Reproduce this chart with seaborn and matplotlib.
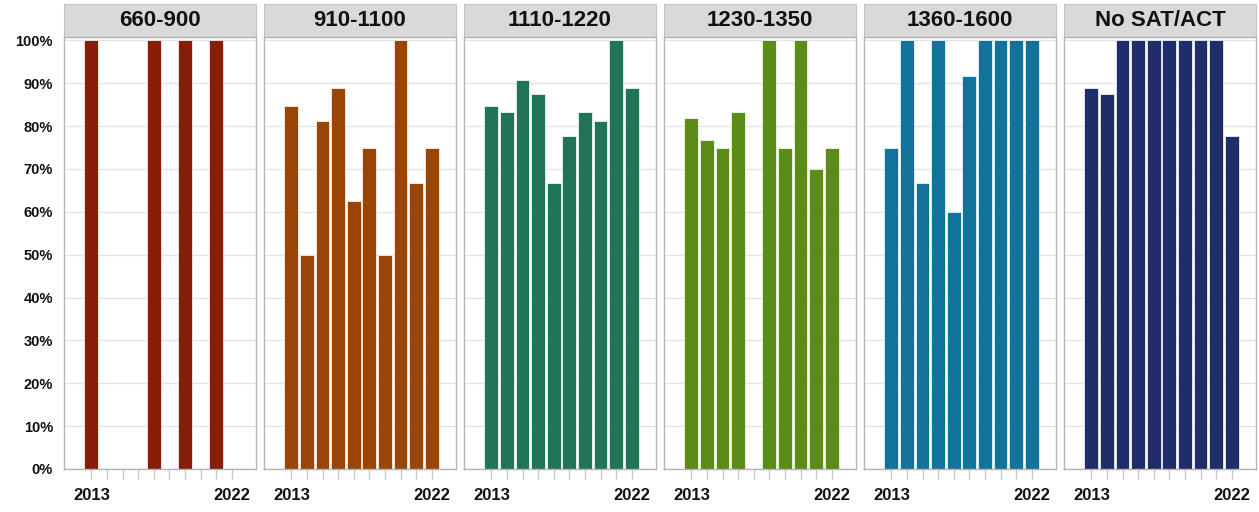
import numpy as np
import pandas as pd
import seaborn as sns
import matplotlib.pyplot as plt
from matplotlib.patches import Rectangle
from matplotlib.ticker import PercentFormatter

years = list(range(2013, 2023))
bands = ["660-900", "910-1100", "1110-1220", "1230-1350", "1360-1600", "No SAT/ACT"]
colors = ["#8a1c0a", "#9a4405", "#21735a", "#5b8c17", "#12739a", "#1f2d6b"]

nan = np.nan
rate_660_900 = [1.0, nan, nan, nan, 1.0, nan, 1.0, nan, 1.0, nan]
rate_910_1100 = [0.846, 0.50, 0.812, 0.889, 0.625, 0.75, 0.50, 1.0, 0.667, 0.75]
rate_1110_1220 = [0.846, 0.832, 0.908, 0.874, 0.667, 0.778, 0.832, 0.812, 1.0, 0.889]
rate_1230_1350 = [0.818, 0.768, 0.75, 0.832, nan, 1.0, 0.75, 1.0, 0.70, 0.75]
rate_1360_1600 = [0.75, 1.0, 0.667, 1.0, 0.60, 0.916, 1.0, 1.0, 1.0, 1.0]
rate_no_test = [0.889, 0.874, 1.0, 1.0, 1.0, 1.0, 1.0, 1.0, 1.0, 0.778]

rates = [rate_660_900, rate_910_1100, rate_1110_1220,
         rate_1230_1350, rate_1360_1600, rate_no_test]

df = pd.concat(
    [pd.DataFrame({"band": b, "year": years, "rate": r}) for b, r in zip(bands, rates)],
    ignore_index=True,
).dropna()
df["year"] = df["year"].astype(str)
order = [str(y) for y in years]

sns.set_style("white")
plt.rcParams["font.family"] = ["Liberation Sans", "DejaVu Sans"]
plt.rcParams["font.weight"] = "bold"

W, H = 1259, 512
fig = plt.figure(figsize=(W / 100, H / 100), dpi=100)

left0, pw, gap = 64, 192, 8
top, bottom = 37, 469
strip_top = 4

for i, band in enumerate(bands):
    x0 = left0 + i * (pw + gap)
    ax = fig.add_axes([x0 / W, 1 - bottom / H, pw / W, (bottom - top) / H])
    sub = df[df["band"] == band]
    sns.barplot(data=sub, x="year", y="rate", order=order, color=colors[i],
                width=0.88, saturation=1, errorbar=None, ax=ax,
                edgecolor="white", linewidth=0.5)

    ax.set_xlim(-1.75, 10.55)
    ax.set_ylim(0, 1.008)
    ax.set_yticks(np.arange(0, 1.01, 0.1))
    ax.yaxis.grid(True, color="#e4e4e4", linewidth=1)
    ax.set_axisbelow(True)
    ax.set_xlabel("")
    ax.set_ylabel("")

    ax.set_xticks(range(len(order)))
    ax.set_xticklabels([order[0]] + [""] * 8 + [order[-1]])
    ax.tick_params(axis="x", bottom=True, length=7, width=1, color="#c8c8c8",
                   pad=7, labelsize=12, labelcolor="#111111")
    for lab in ax.get_xticklabels():
        lab.set_fontweight("bold")

    if i == 0:
        ax.yaxis.set_major_formatter(PercentFormatter(1.0, decimals=0))
        ax.tick_params(axis="y", length=0, pad=8, labelsize=10.5,
                       labelcolor="#111111")
        for lab in ax.get_yticklabels():
            lab.set_fontweight("bold")
    else:
        ax.tick_params(axis="y", length=0, labelleft=False)

    for s in ax.spines.values():
        s.set_visible(True)
        s.set_color("#b4b4b4")
        s.set_linewidth(1)

    # facet header strip
    sh = (top - strip_top) / (bottom - top)
    ax.add_patch(Rectangle((0, 1), 1, sh, transform=ax.transAxes, clip_on=False,
                           facecolor="#d9d9d9", edgecolor="#c4c4c4", linewidth=0.8))
    ax.text(0.5, 1 + sh / 2, band, transform=ax.transAxes, ha="center",
            va="center", fontsize=16, fontweight="bold", color="#111111")

fig.savefig("out.png", dpi=100)
plt.close(fig)
